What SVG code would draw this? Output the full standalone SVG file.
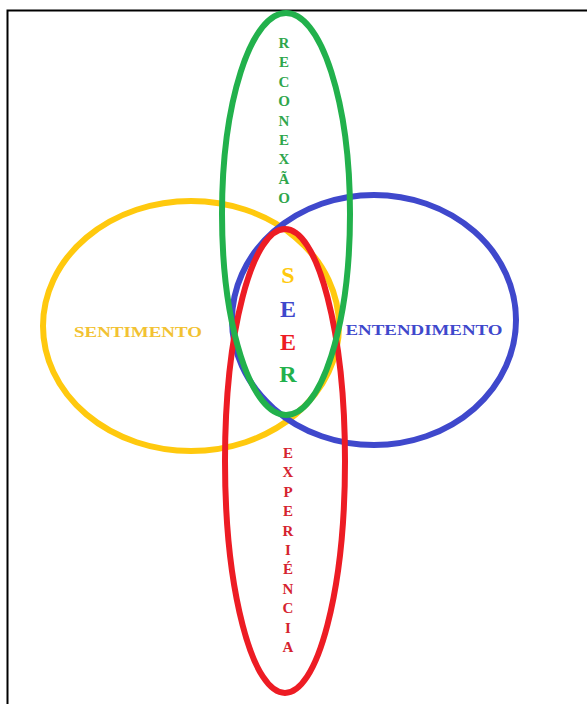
<svg xmlns="http://www.w3.org/2000/svg" width="587" height="704" viewBox="0 0 587 704">
<style>
.ring{fill:none;stroke-width:6}
.t{font-family:"Liberation Serif","Times New Roman",serif;font-weight:bold;text-anchor:middle}
.v{font-size:15px}
.big{font-size:24px}
</style>
<rect x="0" y="0" width="587" height="704" fill="#fff"/>
<rect x="7.5" y="10.5" width="600" height="720" fill="none" stroke="#000" stroke-width="2"/>
<g id="sentimento">
<ellipse class="ring" cx="191" cy="326" rx="148" ry="125" stroke="#ffc90e"/>
<text class="t" x="138" y="337" font-size="14" fill="#f2c232" textLength="128" lengthAdjust="spacingAndGlyphs">SENTIMENTO</text>
</g>
<g id="entendimento">
<ellipse class="ring" cx="374" cy="320" rx="142" ry="125" stroke="#3f48cc"/>
<text class="t" x="424" y="335" font-size="15" fill="#3f48cc" textLength="157" lengthAdjust="spacingAndGlyphs">ENTENDIMENTO</text>
</g>
<g id="experiencia">
<ellipse class="ring" cx="285" cy="461" rx="60" ry="232" stroke="#ed1c24"/>
<text class="t v" fill="#d5232f"><tspan x="288" y="458">E</tspan><tspan x="288" y="477">X</tspan><tspan x="288" y="497">P</tspan><tspan x="288" y="516">E</tspan><tspan x="288" y="536">R</tspan><tspan x="288" y="555">I</tspan><tspan x="288" y="574">É</tspan><tspan x="288" y="594">N</tspan><tspan x="288" y="613">C</tspan><tspan x="288" y="633">I</tspan><tspan x="288" y="652">A</tspan></text>
</g>
<g id="reconexao">
<ellipse class="ring" cx="286" cy="214" rx="64" ry="201" stroke="#22b14c"/>
<text class="t v" fill="#2fa64c"><tspan x="284" y="48">R</tspan><tspan x="284" y="67">E</tspan><tspan x="284" y="87">C</tspan><tspan x="284" y="106">O</tspan><tspan x="284" y="126">N</tspan><tspan x="284" y="145">E</tspan><tspan x="284" y="164">X</tspan><tspan x="284" y="184">Ã</tspan><tspan x="284" y="203">O</tspan></text>
</g>
<g id="seer">
<text class="t big"><tspan x="288" y="283" fill="#ffc90e">S</tspan><tspan x="288" y="317" fill="#3f48cc">E</tspan><tspan x="288" y="350" fill="#ed1c24">E</tspan><tspan x="288" y="382" fill="#22b14c">R</tspan></text>
</g>
<g id="connectors"></g>
</svg>
